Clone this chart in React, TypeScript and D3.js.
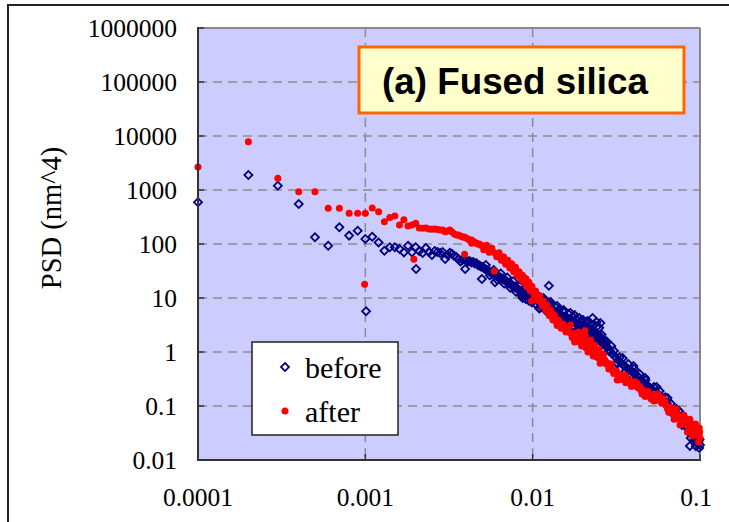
import React from 'react';
import * as d3 from 'd3';

// ---- data (frequency, PSD) ----
const beforeData: [number, number][] = [
  [0.0001, 592], [0.0002, 1900], [0.0003, 1202], [0.0004, 551], [0.0005, 133], [0.0006, 93], [0.0007, 204],
  [0.0008, 143], [0.0009, 176], [0.001, 124], [0.00101, 5.7], [0.0011, 136], [0.0012, 107], [0.0013, 75],
  [0.0014, 87], [0.0015, 87], [0.0016, 81], [0.0017, 70], [0.0018, 93], [0.0019, 70], [0.002, 87], [0.00201, 34.4],
  [0.0021, 74], [0.0022, 68], [0.0023, 84], [0.0024, 71], [0.0025, 62.5], [0.0026, 74], [0.0027, 71], [0.0028, 68],
  [0.0029, 71], [0.003, 52.7], [0.0031, 62.5], [0.0032, 69], [0.0033, 65.3], [0.0034, 60], [0.0035, 57.4],
  [0.0036, 52.7], [0.0037, 47.4], [0.0038, 50.5], [0.0039, 52.7], [0.00395, 34.4], [0.004, 50.5], [0.0041, 47.4],
  [0.0042, 48.4], [0.0043, 45.4], [0.0044, 46.4], [0.0045, 43.5], [0.0046, 44.5], [0.0047, 40.8], [0.0048, 40],
  [0.0049, 38.3], [0.00497, 22.5], [0.005, 37.5], [0.0051, 36], [0.0052, 34.4], [0.00525, 41], [0.0053, 33.4],
  [0.0054, 32.3], [0.0055, 31], [0.00555, 26], [0.0056, 29.7], [0.0057, 28.8], [0.0058, 27.8], [0.00585, 33],
  [0.0059, 27], [0.00596, 19.5], [0.006, 26.1], [0.0061, 25.5], [0.00615, 21.5], [0.0062, 25.0], [0.0063, 24.5],
  [0.0064, 24.0], [0.00645, 28.5], [0.0065, 23.2], [0.0066, 22.5], [0.0067, 22], [0.00675, 18.5], [0.0068, 21.5],
  [0.0069, 20.8], [0.007, 20.2], [0.00705, 24], [0.0071, 19.6], [0.0072, 19.0], [0.0073, 18.4], [0.00735, 15.5],
  [0.0074, 17.8], [0.0075, 17.4], [0.0076, 17.0], [0.00765, 20.5], [0.0077, 16.5], [0.0078, 16.0], [0.0079, 15.6],
  [0.00795, 13], [0.008, 15.3], [0.0081, 14.8], [0.0082, 14.4], [0.00825, 17], [0.0083, 13.9], [0.0084, 13.5],
  [0.0085, 17.4], [0.00855, 11.2], [0.0086, 12.9], [0.0087, 10.0], [0.0088, 12.4], [0.00885, 14.8], [0.0089, 11.0],
  [0.009, 11.6], [0.0091, 9.6], [0.0092, 11.4], [0.0093, 13.4], [0.0094, 10.9], [0.0095, 8.9], [0.0096, 10.4],
  [0.0097, 12.3], [0.0098, 10.2], [0.0099, 8.3], [0.01, 9.8], [0.0101, 11.6], [0.0103, 9.4], [0.0104, 7.8],
  [0.0105, 11.9], [0.0106, 9.0], [0.0107, 10.7], [0.0109, 8.6], [0.01095, 6.4], [0.011, 6.53], [0.0111, 10.2],
  [0.0112, 8.3], [0.0113, 6.8], [0.0115, 7.74], [0.0116, 10.0], [0.0117, 9.1], [0.0118, 7.42], [0.012, 6.1],
  [0.0121, 7.11], [0.0122, 5.51], [0.0123, 8.3], [0.0124, 6.81], [0.0125, 16.9], [0.0126, 5.5], [0.0127, 6.53],
  [0.0128, 8.43], [0.0129, 7.6], [0.013, 6.26], [0.0132, 5.0], [0.0134, 5.87], [0.0135, 4.64], [0.0136, 6.9],
  [0.0138, 5.51], [0.0139, 4.5], [0.014, 7.11], [0.0142, 5.27], [0.0144, 6.2], [0.0146, 5.06], [0.0148, 3.92],
  [0.0149, 4.0], [0.015, 4.74], [0.0152, 5.6], [0.0153, 6.0], [0.0155, 4.45], [0.0157, 3.65], [0.016, 4.26],
  [0.0162, 3.30], [0.0163, 5.1], [0.0165, 4.0], [0.0167, 3.4], [0.0168, 5.27], [0.017, 3.83], [0.0172, 2.90],
  [0.0173, 4.5], [0.0175, 3.59], [0.0177, 2.9], [0.0178, 4.84], [0.018, 3.44], [0.0182, 4.1], [0.0183, 2.45],
  [0.0186, 3.16], [0.0188, 2.6], [0.019, 4.26], [0.0192, 3.03], [0.0194, 3.8], [0.0195, 2.06], [0.0198, 2.90],
  [0.02, 3.92], [0.0201, 2.35], [0.0204, 2.78], [0.0207, 1.82], [0.0209, 3.6], [0.021, 2.67], [0.0213, 3.75],
  [0.0215, 2.1], [0.0217, 2.55], [0.022, 1.67], [0.0222, 3.4], [0.0224, 2.45], [0.0226, 1.9], [0.0228, 4.26],
  [0.0231, 2.35], [0.0233, 3.2], [0.0234, 1.53], [0.0236, 1.75], [0.0238, 2.25], [0.0241, 3.59], [0.0243, 3.0],
  [0.0245, 2.15], [0.0246, 1.85], [0.0248, 1.67], [0.025, 2.8], [0.0252, 1.98], [0.0254, 3.44], [0.0256, 1.7],
  [0.0258, 2.1], [0.026, 1.60], [0.0263, 1.4], [0.0265, 1.09], [0.0268, 1.62], [0.027, 1.35], [0.0275, 1.60],
  [0.028, 1.24], [0.0285, 1.05], [0.029, 1.04], [0.0295, 1.29], [0.03, 0.92], [0.0306, 1.05], [0.0312, 0.81],
  [0.0318, 0.64], [0.032, 0.60], [0.0325, 0.71], [0.0331, 0.8], [0.0338, 0.625], [0.0345, 0.77], [0.0352, 0.55],
  [0.0359, 0.44], [0.0366, 0.506], [0.0373, 0.6], [0.0375, 0.392], [0.0381, 0.464], [0.0388, 0.37],
  [0.0396, 0.427], [0.04, 0.55], [0.0404, 0.49], [0.0412, 0.392], [0.042, 0.3], [0.0428, 0.344], [0.0436, 0.39],
  [0.044, 0.255], [0.0445, 0.303], [0.0454, 0.26], [0.0463, 0.267], [0.047, 0.33], [0.0472, 0.3], [0.0481, 0.245],
  [0.049, 0.2], [0.05, 0.22], [0.051, 0.182], [0.052, 0.198], [0.053, 0.225], [0.0541, 0.182], [0.055, 0.225],
  [0.0552, 0.15], [0.0563, 0.167], [0.0574, 0.19], [0.0585, 0.15], [0.0595, 0.129], [0.0608, 0.129],
  [0.062, 0.145], [0.0632, 0.114], [0.064, 0.141], [0.0645, 0.095], [0.0657, 0.0958], [0.067, 0.11],
  [0.0683, 0.0844], [0.069, 0.071], [0.0696, 0.07], [0.071, 0.0774], [0.0724, 0.088], [0.0738, 0.0682],
  [0.075, 0.0807], [0.0752, 0.058], [0.0767, 0.06], [0.078, 0.0445], [0.0782, 0.066], [0.0797, 0.0506],
  [0.0812, 0.043], [0.0828, 0.0426], [0.0844, 0.048], [0.085, 0.0527], [0.086, 0.036], [0.087, 0.0182],
  [0.0876, 0.031], [0.088, 0.0255], [0.0893, 0.0291], [0.091, 0.0344], [0.093, 0.028], [0.0928, 0.0235],
  [0.0945, 0.018], [0.0955, 0.0235], [0.0964, 0.0206], [0.0975, 0.0267], [0.098, 0.0215], [0.099, 0.0167],
  [0.0995, 0.024], [0.1, 0.019],
];

const afterData: [number, number][] = [
  [0.0001, 2670], [0.0002, 7850], [0.0003, 1650], [0.0004, 930], [0.0005, 930], [0.0006, 458], [0.0007, 458],
  [0.0008, 370], [0.0009, 370], [0.00099, 17.9], [0.001, 370], [0.0011, 465], [0.0012, 396], [0.0013, 259],
  [0.0014, 310], [0.0015, 330], [0.0016, 225], [0.0017, 280], [0.0018, 215], [0.0019, 225], [0.00195, 52],
  [0.002, 242], [0.0021, 198], [0.0022, 195], [0.0023, 198], [0.0024, 190], [0.0025, 187], [0.0026, 190],
  [0.0027, 185], [0.0028, 182], [0.0029, 182], [0.003, 169], [0.0031, 174], [0.0032, 182], [0.0033, 167],
  [0.0034, 153], [0.0035, 147], [0.0036, 147], [0.0037, 141], [0.0038, 135], [0.0039, 135], [0.00392, 64.4],
  [0.004, 129], [0.0041, 124], [0.0042, 119], [0.0043, 119], [0.00432, 103], [0.0044, 114], [0.0045, 107],
  [0.0046, 104], [0.0047, 100], [0.0048, 100], [0.0049, 95.8], [0.005, 91.8], [0.0051, 78], [0.0052, 86],
  [0.0053, 95], [0.0054, 80.8], [0.0055, 70], [0.0056, 75], [0.0057, 83], [0.0058, 71.1], [0.0059, 31.6],
  [0.006, 66.5], [0.0061, 58], [0.0062, 62.5], [0.0063, 69], [0.0064, 57.4], [0.0065, 50], [0.0066, 52.7],
  [0.0067, 58], [0.0068, 48.4], [0.0069, 42], [0.007, 45.4], [0.0071, 50], [0.0072, 42.6], [0.0073, 36],
  [0.0074, 39.1], [0.0075, 43], [0.0076, 35.9], [0.0077, 30.5], [0.0078, 33.0], [0.0079, 37], [0.008, 30.3],
  [0.0081, 26], [0.0082, 27.8], [0.0083, 30.5], [0.0084, 25.5], [0.0085, 22], [0.0086, 24.0], [0.0087, 26.5],
  [0.0088, 22.5], [0.0089, 19], [0.009, 20.7], [0.0091, 23], [0.0092, 19.0], [0.0093, 16], [0.0094, 17.4],
  [0.0095, 19.5], [0.0096, 16.0], [0.0097, 13.5], [0.0098, 14.7], [0.00985, 8.8], [0.0099, 16.5], [0.01, 13.5],
  [0.0102, 11.5], [0.0103, 11.9], [0.0104, 13.5], [0.0106, 10.7], [0.0108, 9.0], [0.0109, 9.58], [0.011, 11],
  [0.0112, 8.43], [0.0114, 7.2], [0.0115, 7.42], [0.0116, 8.8], [0.0118, 6.96], [0.012, 5.8], [0.0121, 6.39],
  [0.0122, 7.3], [0.0124, 5.51], [0.0126, 4.7], [0.0127, 5.06], [0.0128, 5.9], [0.013, 4.64], [0.0132, 3.9],
  [0.0134, 4.08], [0.0135, 4.8], [0.0138, 3.67], [0.014, 3.1], [0.0142, 3.30], [0.0143, 3.9], [0.0146, 3.16],
  [0.0148, 2.75], [0.015, 2.85], [0.0152, 3.3], [0.0155, 2.78], [0.0158, 2.35], [0.016, 2.50], [0.0162, 2.9],
  [0.0165, 2.35], [0.0168, 3.16], [0.017, 2.20], [0.0172, 1.85], [0.0175, 2.06], [0.0178, 1.53], [0.018, 1.94],
  [0.0182, 2.25], [0.0186, 1.82], [0.0188, 2.35], [0.019, 1.55], [0.0192, 1.70], [0.0196, 1.29], [0.0198, 1.60],
  [0.0201, 1.95], [0.0204, 1.50], [0.0205, 2.48], [0.0206, 1.98], [0.0208, 1.2], [0.021, 1.41], [0.0214, 1.0],
  [0.0217, 1.29], [0.0219, 1.6], [0.0222, 1.67], [0.0224, 1.21], [0.0227, 1.0], [0.023, 0.84], [0.0231, 1.14],
  [0.0234, 1.35], [0.0238, 1.07], [0.024, 0.82], [0.0242, 0.88], [0.0245, 1.0], [0.0248, 0.77], [0.025, 1.12],
  [0.0252, 0.94], [0.0253, 0.62], [0.026, 0.81], [0.0265, 0.9], [0.027, 0.71], [0.0275, 0.6], [0.028, 0.625],
  [0.0285, 0.484], [0.029, 0.527], [0.0295, 0.6], [0.03, 0.464], [0.0305, 0.4], [0.0312, 0.408], [0.0318, 0.44],
  [0.032, 0.303], [0.0325, 0.375], [0.0332, 0.31], [0.0338, 0.344], [0.0345, 0.37], [0.0352, 0.316],
  [0.0356, 0.375], [0.036, 0.27], [0.0366, 0.29], [0.0374, 0.31], [0.0381, 0.267], [0.0389, 0.23],
  [0.0396, 0.25], [0.0404, 0.28], [0.0412, 0.234], [0.042, 0.267], [0.0428, 0.215], [0.0436, 0.23],
  [0.0445, 0.194], [0.045, 0.167], [0.0455, 0.2], [0.0463, 0.178], [0.047, 0.15], [0.0481, 0.167], [0.049, 0.185],
  [0.05, 0.156], [0.051, 0.135], [0.052, 0.15], [0.053, 0.124], [0.0535, 0.165], [0.0541, 0.144], [0.055, 0.128],
  [0.056, 0.167], [0.0563, 0.138], [0.0575, 0.15], [0.0585, 0.129], [0.059, 0.112], [0.06, 0.138],
  [0.0608, 0.114], [0.062, 0.12], [0.0632, 0.1], [0.064, 0.088], [0.065, 0.077], [0.0657, 0.088], [0.067, 0.094],
  [0.0683, 0.079], [0.0695, 0.07], [0.07, 0.057], [0.071, 0.071], [0.072, 0.088], [0.0725, 0.078],
  [0.0738, 0.0653], [0.075, 0.058], [0.076, 0.0445], [0.0767, 0.06], [0.078, 0.063], [0.0797, 0.0539],
  [0.08, 0.068], [0.081, 0.047], [0.0815, 0.06], [0.0828, 0.0484], [0.084, 0.033], [0.085, 0.052],
  [0.086, 0.0426], [0.087, 0.057], [0.088, 0.04], [0.0893, 0.0375], [0.09, 0.0278], [0.0915, 0.044],
  [0.0928, 0.033], [0.094, 0.0464], [0.0955, 0.035], [0.0964, 0.029], [0.097, 0.038], [0.098, 0.0215],
  [0.0985, 0.03], [0.099, 0.039], [0.0995, 0.033], [0.1, 0.0255],
];

const xTicks = [0.0001, 0.001, 0.01, 0.1];
const xTickLabels = ['0.0001', '0.001', '0.01', '0.1'];
const yTicks = [0.01, 0.1, 1, 10, 100, 1000, 10000, 100000, 1000000];
const yTickLabels = ['0.01', '0.1', '1', '10', '100', '1000', '10000', '100000', '1000000'];
const seriesNames = ['before', 'after'];
const titleText = '(a) Fused silica';
const yAxisTitle = 'PSD (nm^4)';

const W = 729;
const H = 522;
const PL = 198, PR = 700, PT = 28, PB = 460;
const serif = '"Liberation Serif", "Times New Roman", serif';
const sans = '"Liberation Sans", Arial, sans-serif';
const BLUE = '#000080';
const RED = '#ff0000';

export default function App() {
  const x = d3.scaleLog().domain([1e-4, 0.1]).range([PL, PR]);
  const y = d3.scaleLog().domain([0.01, 1e6]).range([PB, PT]);
  const diamond = d3.symbol().type(d3.symbolSquare).size(32)() as string;

  return (
    <svg width={W} height={H} style={{ position: 'absolute', left: 0, top: 0 }}>
      <rect x={0} y={0} width={W} height={H} fill="#ffffff" />
      {/* outer chart frame */}
      <rect x={8} y={5} width={760} height={560} fill="none" stroke="#222" strokeWidth={2} />
      {/* plot area */}
      <rect x={PL} y={PT} width={PR - PL} height={PB - PT} fill="#ccccff" />
      {/* gridlines */}
      {yTicks.slice(1, -1).map((t) => (
        <line key={'gy' + t} x1={PL} x2={PR} y1={y(t)} y2={y(t)} stroke="#8c8c8c" strokeWidth={1.5} strokeDasharray="9,6" />
      ))}
      {xTicks.slice(1, -1).map((t) => (
        <line key={'gx' + t} x1={x(t)} x2={x(t)} y1={PT} y2={PB} stroke="#8c8c8c" strokeWidth={1.5} strokeDasharray="9,6" />
      ))}
      {/* plot border */}
      <line x1={PL} x2={PR} y1={PT} y2={PT} stroke="#888" strokeWidth={2} />
      <line x1={PR} x2={PR} y1={PT} y2={PB} stroke="#888" strokeWidth={2} />
      {/* data: before */}
      <g>
        {beforeData.map(([f, v], i) => (
          <path key={'b' + i} d={diamond} transform={`translate(${x(f)},${y(v)}) rotate(45)`} fill="none" stroke={BLUE} strokeWidth={1.8} />
        ))}
      </g>
      {/* data: after */}
      <g>
        {afterData.map(([f, v], i) => (
          <circle key={'a' + i} cx={x(f)} cy={y(v)} r={3.5} fill={RED} />
        ))}
      </g>
      {/* axes */}
      <line x1={PL} x2={PL} y1={PT - 1} y2={PB + 1} stroke="#333" strokeWidth={2} />
      <line x1={PL - 1} x2={PR + 1} y1={PB} y2={PB} stroke="#333" strokeWidth={2} />
      {yTicks.map((t) => (
        <line key={'ty' + t} x1={PL} x2={PL + 6} y1={y(t)} y2={y(t)} stroke="#333" strokeWidth={1.5} />
      ))}
      {xTicks.map((t) => (
        <line key={'tx' + t} x1={x(t)} x2={x(t)} y1={PB} y2={PB - 6} stroke="#333" strokeWidth={1.5} />
      ))}
      {/* tick labels */}
      {yTicks.map((t, i) => (
        <text key={'ly' + t} x={177} y={y(t) + 9} textAnchor="end" fontFamily={serif} fontSize={25.5} fill="#000">
          {yTickLabels[i]}
        </text>
      ))}
      {xTicks.map((t, i) => (
        <text key={'lx' + t} x={i === xTicks.length - 1 ? x(t) + 12 : x(t)} y={506}
          textAnchor={i === xTicks.length - 1 ? 'end' : 'middle'} fontFamily={serif} fontSize={25.5} fill="#000">
          {xTickLabels[i]}
        </text>
      ))}
      {/* y axis title */}
      <text transform="translate(61,218) rotate(-90)" textAnchor="middle" fontFamily={serif} fontSize={28.5} fill="#000">
        {yAxisTitle}
      </text>
      {/* title box */}
      <rect x={359} y={47} width={325} height={66} fill="#ffffcc" stroke="#ff6600" strokeWidth={3} />
      <text x={382} y={94} fontFamily={sans} fontWeight="bold" fontSize={36.8} fill="#000">
        {titleText}
      </text>
      {/* legend */}
      <rect x={252} y={342} width={146} height={93} fill="#ffffff" stroke="#222" strokeWidth={1.5} />
      <path d={diamond} transform="translate(285,367) rotate(45)" fill="none" stroke={BLUE} strokeWidth={1.8} />
      <text x={305} y={378} fontFamily={serif} fontSize={30} fill="#000">{seriesNames[0]}</text>
      <circle cx={285} cy={411} r={3.5} fill={RED} />
      <text x={305} y={422} fontFamily={serif} fontSize={30} fill="#000">{seriesNames[1]}</text>
    </svg>
  );
}
